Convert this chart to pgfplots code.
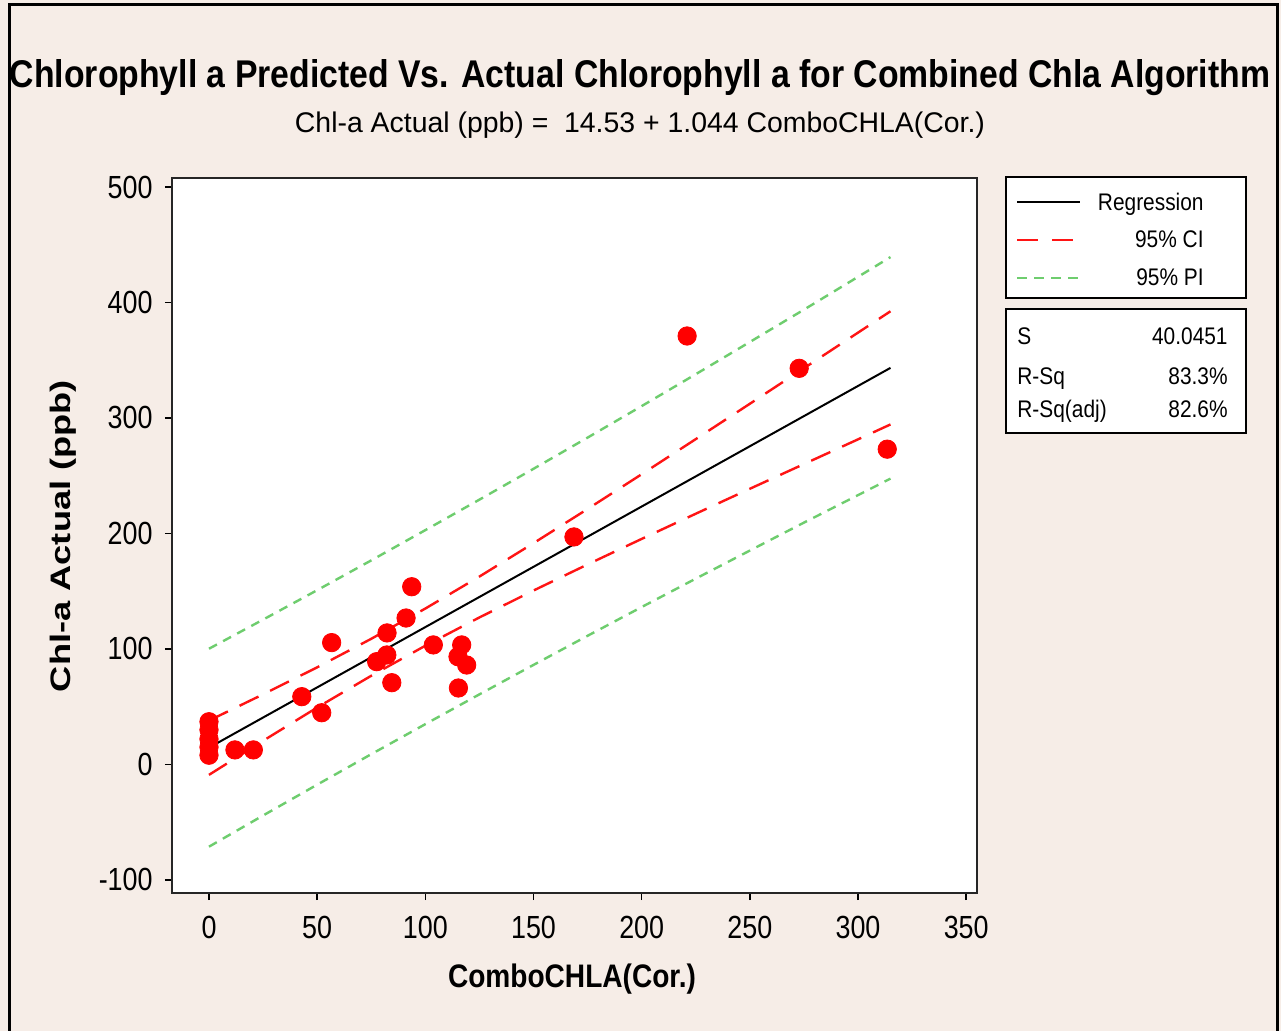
\documentclass[border=0pt]{standalone}
\usepackage{pgfplots}
\pgfplotsset{compat=1.18}
\usepackage{pgfplotstable}
\usepackage{fontspec}
\setmainfont{Liberation Sans}
\definecolor{bg}{RGB}{246,237,231}
\definecolor{pigreen}{RGB}{110,205,110}
\definecolor{cired}{RGB}{255,20,20}
\newcommand{\tl}[1]{\scalebox{0.84}[1]{\fontsize{16}{16}\selectfont #1}}
\newcommand{\lgt}[1]{\scalebox{0.87}[1]{\fontsize{12}{12}\selectfont #1}}

\pgfplotstableread{
x y
0 37
0 30
0 22
0 15
0 8
12.0 12.6
20.5 12.6
42.9 58.7
52.1 44.8
56.7 105.5
77.5 89.0
82.3 113.9
82.2 94.8
84.5 70.8
91.1 126.8
93.7 153.9
103.7 103.5
115.3 66.2
115.1 93.3
116.8 103.5
119.1 86.1
168.7 197
221.0 371
272.8 343
313.5 273
}\obs

\pgfplotstableread{
x reg ciu cil piu pil
0 14.53 38.0 -9.0 100.2 -71.2
25 40.63 60.7 20.5 125.4 -44.2
50 66.73 84.1 49.3 150.9 -17.5
75 92.83 108.8 76.8 176.7 8.9
100 118.93 135.0 102.8 202.9 34.9
125 145.03 162.7 127.3 229.3 60.7
150 171.13 191.6 150.6 256.0 86.2
175 197.23 221.2 173.2 283.0 111.4
200 223.33 251.3 195.3 310.3 136.3
225 249.43 281.7 217.1 337.9 160.9
250 275.53 312.3 238.7 365.8 185.2
275 301.63 343.1 260.1 393.8 209.4
300 327.73 373.9 281.5 422.2 233.2
315 343.39 392.4 294.4 439.3 247.5
}\fit

\begin{document}
\begin{tikzpicture}
\begin{scope}[x=0.5pt,y=-0.5pt]
\fill[bg] (0,0) rectangle (1281,1031);
\useasboundingbox (0,0) rectangle (1281,1031);
\draw[line width=1.5pt] (9.5,1035) -- (9.5,5) -- (1277,5) -- (1277,1035);
\node[anchor=base,inner sep=0pt] at (640,88) {\resizebox{630pt}{14pt}{\bfseries Chlorophyll a Predicted Vs. Actual Chlorophyll a for Combined Chla Algorithm}};
\node[anchor=base,inner sep=0pt] at (640,133) {\resizebox{345pt}{10.3pt}{Chl-a Actual (ppb) =\ \ 14.53 + 1.044 ComboCHLA(Cor.)}};
\end{scope}
\begin{axis}[
  at={(86pt,-446.5pt)}, anchor=south west,
  scale only axis, width=402.5pt, height=357.5pt,
  xmin=-17.1, xmax=355, ymin=-111.3, ymax=507.8,
  xtick={0,50,...,350}, ytick={-100,0,...,500},
  tick pos=left, tick align=outside, major tick length=3.5pt,
  every tick/.style={black, line width=0.7pt},
  axis line style={black!85, line width=1pt},
  axis background/.style={fill=white},
  /pgf/number format/assume math mode=true,
  xticklabel={\tl{\pgfmathprintnumber{\tick}}},
  yticklabel={\tl{\pgfmathprintnumber{\tick}}},
  xticklabel style={anchor=north, inner sep=0pt, yshift=-8pt},
  yticklabel style={anchor=east, inner sep=0pt, xshift=-6pt},
  xlabel={\resizebox{124pt}{11.8pt}{\bfseries ComboCHLA(Cor.)}},
  xlabel style={at={(axis description cs:0.4969,-0.1315)}, anchor=base, inner sep=0pt},
  ylabel={\resizebox{156pt}{10.2pt}{\bfseries Chl-a Actual (ppb)}},
  ylabel style={at={(axis description cs:-0.1355,0.4993)}, anchor=center, inner sep=0pt},
  clip=false,
]
\addplot[pigreen, line width=1.2pt, dash pattern=on 4.5pt off 3.5pt] table[x=x,y=piu] {\fit};
\addplot[pigreen, line width=1.2pt, dash pattern=on 4.5pt off 3.5pt] table[x=x,y=pil] {\fit};
\addplot[cired, line width=1.2pt, dash pattern=on 10.5pt off 6.5pt] table[x=x,y=ciu] {\fit};
\addplot[cired, line width=1.2pt, dash pattern=on 10.5pt off 6.5pt] table[x=x,y=cil] {\fit};
\addplot[black, line width=1pt] table[x=x,y=reg] {\fit};
\addplot[only marks, mark=*, mark size=4.6pt, color=red, mark options={fill=red, draw=red}] table[x=x,y=y] {\obs};
\end{axis}
\begin{scope}[x=0.5pt,y=-0.5pt]
\draw[fill=white, line width=1pt] (1006,177) rectangle (1246,298);
\draw[fill=white, line width=1pt] (1006,309) rectangle (1246,433);
\draw[black, line width=1pt] (1017,202) -- (1080,202);
\draw[cired, line width=1.2pt, dash pattern=on 10.5pt off 7pt] (1017,240) -- (1073,240);
\draw[pigreen, line width=1.2pt, dash pattern=on 5pt off 3.5pt] (1017,278) -- (1080,278);
\node[anchor=base east, inner sep=0pt] at (1204,211) {\lgt{Regression}};
\node[anchor=base east, inner sep=0pt] at (1204,248) {\lgt{95\% CI}};
\node[anchor=base east, inner sep=0pt] at (1204,286) {\lgt{95\% PI}};
\node[anchor=base west, inner sep=0pt] at (1017,345) {\lgt{S}};
\node[anchor=base west, inner sep=0pt] at (1017,385) {\lgt{R-Sq}};
\node[anchor=base west, inner sep=0pt] at (1017,418) {\lgt{R-Sq(adj)}};
\node[anchor=base east, inner sep=0pt] at (1228,345) {\lgt{40.0451}};
\node[anchor=base east, inner sep=0pt] at (1228,385) {\lgt{83.3\%}};
\node[anchor=base east, inner sep=0pt] at (1228,418) {\lgt{82.6\%}};
\end{scope}
\end{tikzpicture}
\end{document}
